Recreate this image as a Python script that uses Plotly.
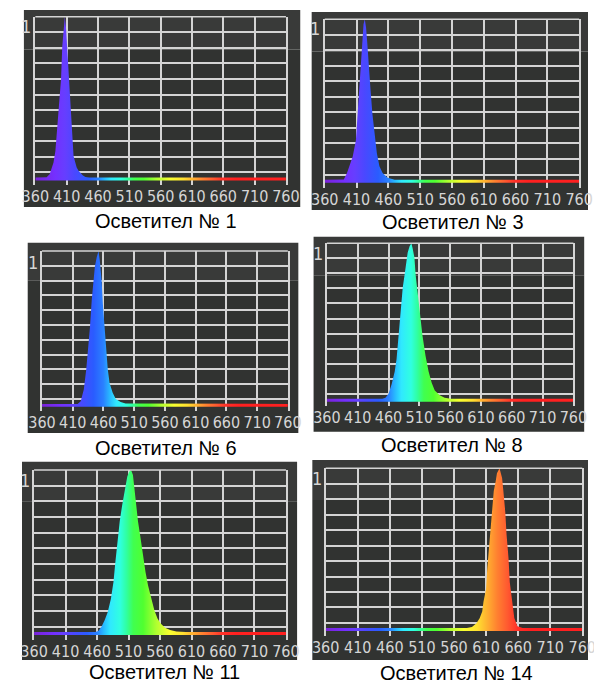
import plotly.graph_objects as go

# ---------------- data ----------------
titles = ["Осветител № 1", "Осветител № 3", "Осветител № 6",
          "Осветител № 8", "Осветител № 11", "Осветител № 14"]

tick_wl = [360, 410, 460, 510, 560, 610, 660, 710, 760]

wl_1 = [360, 378, 383, 386, 389, 392, 395, 398, 401, 403, 405, 407, 409, 411, 413,
        415, 417, 419, 421, 423, 426, 429, 432, 436, 440, 446, 760]
int_1 = [0.018, 0.02, 0.04, 0.07, 0.11, 0.18, 0.33, 0.47, 0.62, 0.82, 0.93, 1.0, 0.93,
         0.80, 0.63, 0.50, 0.35, 0.23, 0.15, 0.12, 0.08, 0.06, 0.045, 0.03, 0.022,
         0.018, 0.018]

wl_2 = [360, 390, 395, 399, 404, 409, 411, 414, 416, 419, 421, 423, 425, 427, 430,
        432, 435, 439, 442, 446, 451, 459, 470, 760]
int_2 = [0.018, 0.02, 0.06, 0.10, 0.16, 0.26, 0.38, 0.57, 0.71, 0.85, 0.97, 1.0, 0.95,
         0.85, 0.71, 0.57, 0.42, 0.28, 0.18, 0.10, 0.06, 0.03, 0.018, 0.018]

wl_3 = [360, 418, 423, 428, 432, 435, 438, 441, 444, 446, 449, 452, 454, 457, 459,
        462, 465, 467, 470, 475, 480, 488, 496, 760]
int_3 = [0.018, 0.018, 0.035, 0.11, 0.24, 0.36, 0.51, 0.69, 0.81, 0.90, 0.96, 1.0,
         0.94, 0.81, 0.66, 0.49, 0.34, 0.24, 0.15, 0.09, 0.05, 0.03, 0.02, 0.018]

wl_4 = [360, 450, 455, 460, 465, 470, 473, 476, 478, 481, 483, 486, 489, 491, 494,
        497, 499, 502, 504, 507, 511, 515, 520, 525, 530, 535, 543, 551, 561, 760]
int_4 = [0.018, 0.018, 0.025, 0.05, 0.11, 0.19, 0.27, 0.40, 0.53, 0.63, 0.72, 0.80,
         0.87, 0.94, 0.98, 1.0, 0.97, 0.91, 0.80, 0.69, 0.55, 0.42, 0.29, 0.19, 0.12,
         0.07, 0.04, 0.025, 0.018, 0.018]

wl_5 = [360, 457, 462, 467, 472, 477, 482, 486, 489, 493, 496, 500, 504, 508, 511,
        514, 517, 519, 522, 525, 529, 533, 537, 541, 546, 551, 556, 561, 568, 576,
        586, 601, 760]
int_5 = [0.018, 0.018, 0.025, 0.05, 0.09, 0.14, 0.22, 0.32, 0.44, 0.59, 0.69, 0.79,
         0.89, 0.96, 0.99, 1.0, 0.97, 0.89, 0.79, 0.69, 0.59, 0.48, 0.38, 0.30, 0.22,
         0.15, 0.10, 0.07, 0.044, 0.03, 0.022, 0.018, 0.018]

wl_6 = [360, 580, 588, 595, 600, 604, 606, 610, 612, 615, 617, 620, 622, 625, 627,
        631, 635, 637, 640, 642, 645, 647, 651, 654, 659, 667, 760]
int_6 = [0.018, 0.018, 0.025, 0.047, 0.078, 0.12, 0.18, 0.26, 0.39, 0.53, 0.65, 0.76,
         0.86, 0.92, 0.97, 1.0, 0.94, 0.86, 0.73, 0.59, 0.45, 0.30, 0.18, 0.08, 0.03,
         0.018, 0.018]

spectra_wl = [wl_1, wl_2, wl_3, wl_4, wl_5, wl_6]
spectra_int = [int_1, int_2, int_3, int_4, int_5, int_6]

# wavelength -> colour used for the spectral fill
spec_wl = [360, 390, 405, 420, 440, 455, 465, 475, 490, 500, 510, 525, 545, 565,
           585, 600, 615, 630, 645, 665, 760]
spec_col = ["#7a22d8", "#7430ff", "#663eff", "#4a48ff", "#2a5cff", "#2a80ff",
            "#28b8ff", "#30e8ff", "#30ffe0", "#30ffa0", "#40ff50", "#50ff30",
            "#b0ff30", "#f8ff30", "#ffe030", "#ffb030", "#ff8030", "#ff5a30",
            "#ff3028", "#ff2020", "#ff2020"]

# ---------------- layout geometry (page pixels) ----------------
PAGE_W, PAGE_H = 602, 684
OFF = 8                      # default body margin of the html page
W, H = PAGE_W - OFF, PAGE_H - OFF


def fx(px):
    return max(0.0, min(1.0, (px - OFF) / W))


def fy(py):
    return max(0.0, min(1.0, 1 - (py - OFF) / H))


# dark panel box (x0, y0, x1, y1), plot area (x0, x1, ytop, ybottom), caption centre, "1" label pos
panels = [
    dict(bg=(10, 10, 300, 207), plot=(22, 285, 16.7, 185.4), cap=(159, 221), one=(12, 27)),
    dict(bg=(312, 12, 602, 210), plot=(325.7, 592.7, 19.3, 187.6), cap=(460, 222), one=(315, 29)),
    dict(bg=(14, 242.7, 298, 433), plot=(29, 287, 251, 411.4), cap=(159, 448), one=(20, 262)),
    dict(bg=(314, 236.7, 598, 431.7), plot=(328, 586.7, 243.3, 406.4), cap=(459, 445), one=(319, 253)),
    dict(bg=(5, 461.7, 296.7, 660), plot=(20.7, 285, 470, 640), cap=(158, 672), one=(11, 480)),
    dict(bg=(312.7, 460, 602, 660), plot=(326.7, 596, 468.3, 635.9), cap=(464, 673), one=(318, 478)),
]

YMIN, YMAX = -0.03, 1.0
grid_y = [1.0 - k * 0.095 for k in range(1, 11)]
GRID = "#d4d4d4"
TICKFONT = dict(family="Liberation Sans Narrow, Arial Narrow, DejaVu Sans Condensed, sans-serif",
                size=16, color="#d6d6d6")

colorscale = [[(w - 360) / 400.0, c] for w, c in zip(spec_wl, spec_col)]

fig = go.Figure()
shapes = []
annotations = []
layout = dict(width=W, height=H, margin=dict(l=0, r=0, t=0, b=0),
              paper_bgcolor="white", plot_bgcolor="rgba(0,0,0,0)", showlegend=False)

for i, p in enumerate(panels):
    n = "" if i == 0 else str(i + 1)
    xa, ya = "x" + n, "y" + n
    bx0, by0, bx1, by1 = p["bg"]
    px0, px1, pyt, pyb = p["plot"]

    # dark panel background (two soft tones)
    split = by0 + 0.2 * (by1 - by0)
    shapes.append(dict(type="rect", xref="paper", yref="paper", layer="below",
                       x0=fx(bx0), x1=fx(bx1), y0=fy(split), y1=fy(by0),
                       fillcolor="#393a39", line=dict(width=0)))
    shapes.append(dict(type="rect", xref="paper", yref="paper", layer="below",
                       x0=fx(bx0), x1=fx(bx1), y0=fy(by1), y1=fy(split),
                       fillcolor="#313331", line=dict(width=0)))
    # top border of the grid
    shapes.append(dict(type="line", xref=xa + " domain", yref=ya + " domain",
                       x0=0, x1=1, y0=1, y1=1, line=dict(color=GRID, width=1.5)))

    fig.add_trace(go.Scatter(
        x=spectra_wl[i], y=spectra_int[i], mode="lines", fill="tozeroy",
        line=dict(width=0), fillgradient=dict(type="horizontal", colorscale=colorscale,
                                              start=360, stop=760),
        xaxis=xa, yaxis=ya, hoverinfo="skip"))

    layout["xaxis" + n] = dict(domain=[fx(px0), fx(px1)], range=[360, 760], anchor=ya,
                               tickvals=tick_wl, ticktext=[str(t) for t in tick_wl],
                               tickangle=0,
                               showgrid=True, gridcolor=GRID, gridwidth=1.5,
                               zeroline=False, showline=False, ticks="",
                               tickfont=TICKFONT, fixedrange=True)
    layout["yaxis" + n] = dict(domain=[fy(pyb), fy(pyt)], range=[YMIN, YMAX],
                               anchor=xa, tickvals=grid_y, showticklabels=False,
                               showgrid=True, gridcolor=GRID, gridwidth=1.5,
                               zeroline=False, showline=True, mirror=True,
                               linecolor=GRID, linewidth=1.5, ticks="", fixedrange=True)

    annotations.append(dict(text=titles[i], xref="paper", yref="paper",
                            x=fx(p["cap"][0]), y=fy(p["cap"][1]),
                            xanchor="center", yanchor="middle", showarrow=False,
                            font=dict(family="Liberation Sans, Arial, sans-serif",
                                      size=20, color="black")))
    annotations.append(dict(text="1", xref="paper", yref="paper",
                            x=fx(p["one"][0]), y=fy(p["one"][1]),
                            xanchor="center", yanchor="middle", showarrow=False,
                            font=dict(family=TICKFONT["family"], size=18, color="#d6d6d6")))

layout["shapes"] = shapes
layout["annotations"] = annotations
fig.update_layout(**layout)
fig.write_html("out.html")
